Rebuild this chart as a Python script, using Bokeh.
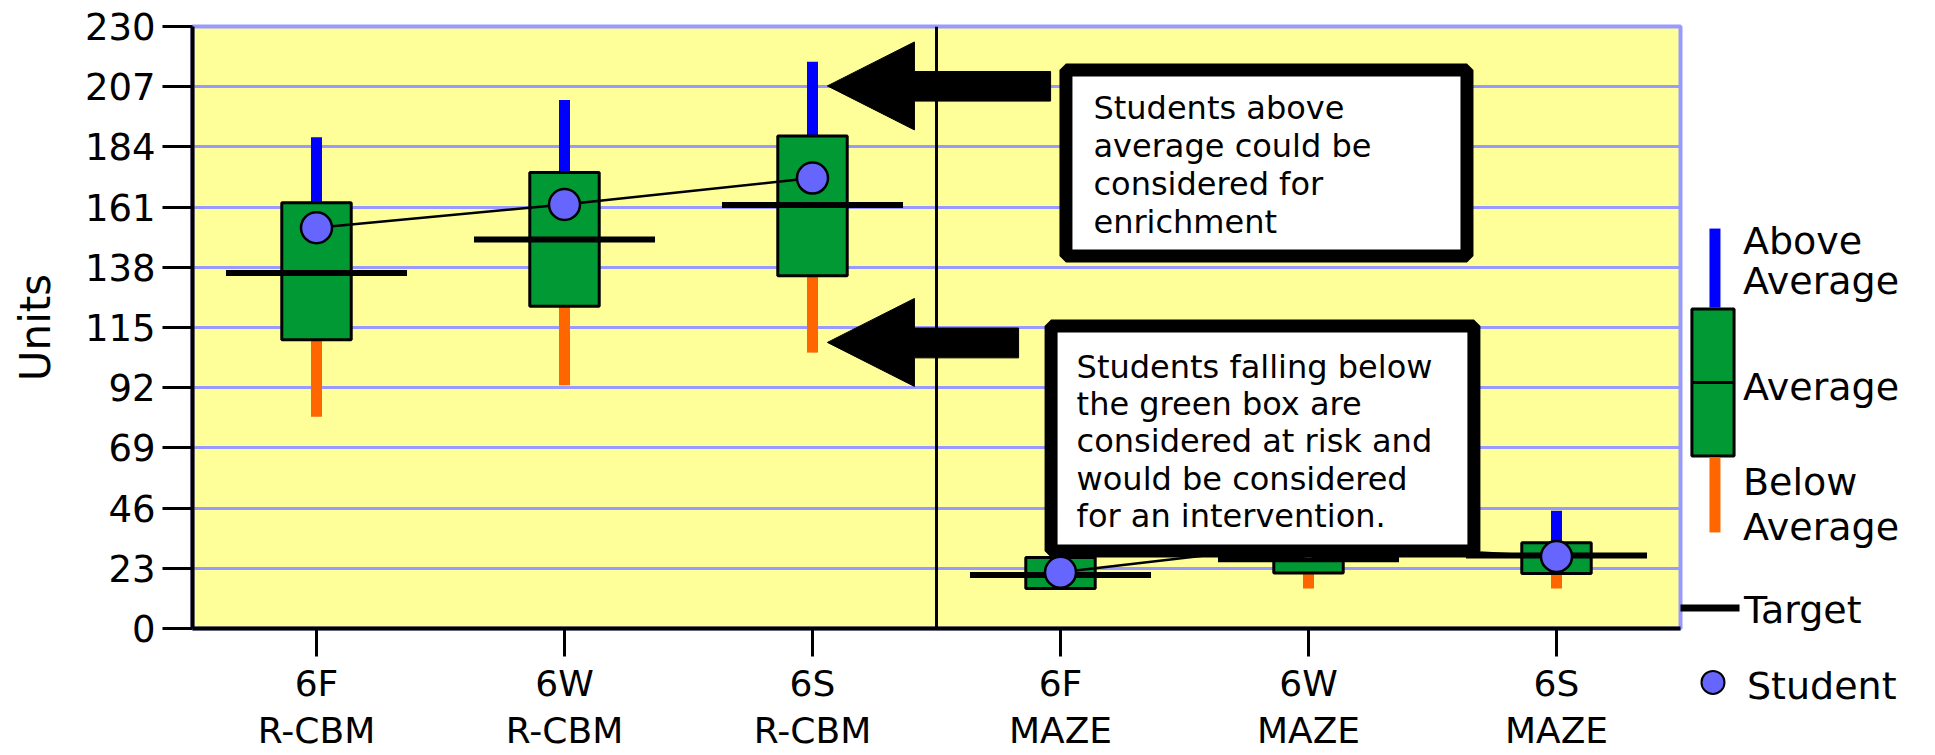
from bokeh.plotting import figure
from bokeh.models import (Range1d, FixedTicker, Span, BoxAnnotation, Label,
                          PolyAnnotation, ColumnDataSource)
from bokeh.core.properties import value
from bokeh.embed import file_html
from bokeh.resources import INLINE

# ---------------- data ----------------
categories = ["6F\nR-CBM", "6W\nR-CBM", "6S\nR-CBM", "6F\nMAZE", "6W\nMAZE", "6S\nMAZE"]
box_low = [110.3, 123.1, 134.8, 15.3, 21.2, 21.0]
box_high = [162.7, 174.2, 188.2, 27.1, 32.0, 32.8]
whisker_low = [80.9, 92.9, 105.4, 15.3, 15.3, 15.3]
whisker_high = [187.7, 201.9, 216.5, 27.1, 36.0, 45.0]
target = [135.8, 148.6, 161.8, 20.4, 26.5, 27.9]
student = [153.1, 162.0, 172.1, 21.5, 32.5, 27.5]
y_ticks = [0, 23, 46, 69, 92, 115, 138, 161, 184, 207, 230]

legend_texts = ["Above", "Average", "Average", "Below", "Average", "Target", "Student"]
callout_top_text = "Students above\naverage could be\nconsidered for\nenrichment"
callout_bottom_text = ("Students falling below\nthe green box are\nconsidered at risk and\n"
                       "would be considered\nfor an intervention.")

# ---------------- style ----------------
FONT = "DejaVu Sans"
YELLOW = "#FFFF99"
GRID = "#9999FF"
GREEN = "#009933"
BLUE = "#0000FF"
ORANGE = "#FF6600"
STUDENT = "#6666FF"

xs = list(range(1, len(categories) + 1))
tests = [c.split("\n")[1] for c in categories]

src = ColumnDataSource(dict(x=xs, box_low=box_low, box_high=box_high,
                            whisker_low=whisker_low, whisker_high=whisker_high,
                            target=target, student=student))

p = figure(width=1935, height=755,
           x_range=Range1d(0.5, len(categories) + 0.5),
           y_range=Range1d(y_ticks[0], y_ticks[-1]),
           output_backend="svg", toolbar_location=None,
           min_border_left=192, min_border_right=255,
           min_border_top=26, min_border_bottom=127,
           background_fill_color=YELLOW, border_fill_color="white")

# whiskers
p.segment(x0="x", y0="box_high", x1="x", y1="whisker_high", line_color=BLUE,
          line_width=11, source=src)
p.segment(x0="x", y0="whisker_low", x1="x", y1="box_low", line_color=ORANGE,
          line_width=11, source=src)
# boxes
p.vbar(x="x", bottom="box_low", top="box_high", width=0.28, fill_color=GREEN,
       line_color="black", line_width=3, source=src)
# targets
p.rect(x="x", y="target", width=0.73, height=6, height_units="screen",
       fill_color="black", line_color=None, source=src)
# student lines per test
for t in ["R-CBM", "MAZE"]:
    gx = [x for x, tt in zip(xs, tests) if tt == t]
    gy = [s for s, tt in zip(student, tests) if tt == t]
    p.line(gx, gy, line_color="black", line_width=2.5)
p.scatter(x="x", y="student", size=31, marker="circle", fill_color=STUDENT,
          line_color="black", line_width=2.5, source=src)

# axes
p.xaxis.ticker = FixedTicker(ticks=xs)
p.xaxis.major_label_overrides = {x: c for x, c in zip(xs, categories)}
p.xaxis.major_label_text_font = FONT
p.xaxis.major_label_text_font_size = "36px"
p.xaxis.major_label_text_line_height = 1.15
p.xaxis.major_label_text_color = "black"
p.xaxis.major_label_standoff = 6
p.xaxis.major_tick_out = 28
p.xaxis.major_tick_in = 0
p.xaxis.major_tick_line_width = 3
p.xaxis.major_tick_line_color = "black"
p.xaxis.minor_tick_line_color = None
p.xaxis.axis_line_width = 4
p.xaxis.axis_line_color = "black"

p.yaxis.ticker = FixedTicker(ticks=y_ticks)
p.yaxis.major_label_text_font = FONT
p.yaxis.major_label_text_font_size = "37px"
p.yaxis.major_label_text_color = "black"
p.yaxis.major_label_standoff = 7
p.yaxis.major_tick_out = 30
p.yaxis.major_tick_in = 0
p.yaxis.major_tick_line_width = 3
p.yaxis.major_tick_line_color = "black"
p.yaxis.minor_tick_line_color = None
p.yaxis.axis_line_width = 4
p.yaxis.axis_line_color = "black"
p.yaxis.axis_label = "Units"
p.yaxis.axis_label_text_font = FONT
p.yaxis.axis_label_text_font_size = "42px"
p.yaxis.axis_label_text_font_style = "normal"
p.yaxis.axis_label_text_color = "black"
p.yaxis.axis_label_standoff = 22

p.xgrid.visible = False
p.ygrid.grid_line_color = GRID
p.ygrid.grid_line_width = 3
p.outline_line_color = GRID
p.outline_line_width = 4
p.outline_line_alpha = 1

# separator between the two tests
n_first = tests.count("R-CBM")
p.add_layout(Span(location=n_first + 0.5, dimension="height",
                  line_color="black", line_width=3))

# arrows
p.add_layout(PolyAnnotation(
    xs=[3.060, 3.411, 3.411, 3.960, 3.960, 3.411, 3.411],
    ys=[207.3, 224.1, 212.8, 212.8, 201.5, 201.5, 190.5],
    fill_color="black", fill_alpha=1, line_color="black", line_alpha=1, line_width=1))
p.add_layout(PolyAnnotation(
    xs=[3.060, 3.411, 3.411, 3.831, 3.831, 3.411, 3.411],
    ys=[109.3, 126.1, 114.8, 114.8, 103.4, 103.4, 92.5],
    fill_color="black", fill_alpha=1, line_color="black", line_alpha=1, line_width=1))

# callouts
p.add_layout(BoxAnnotation(left=4.022, right=5.639, top=213.4, bottom=142.3,
                           fill_color="white", fill_alpha=1, line_color="black",
                           line_alpha=1, line_width=13))
p.add_layout(Label(x=4.133, y=206.3, text=callout_top_text, text_font=FONT,
                   text_font_size="32px", text_baseline="top", text_align="left",
                   text_line_height=1.0, text_color="black"))
p.add_layout(BoxAnnotation(left=3.962, right=5.667, top=115.6, bottom=29.6,
                           fill_color="white", fill_alpha=1, line_color="black",
                           line_alpha=1, line_width=13))
p.add_layout(Label(x=4.065, y=107.2, text=callout_bottom_text, text_font=FONT,
                   text_font_size="32px", text_baseline="top", text_align="left",
                   text_line_height=0.98, text_color="black"))

# ---------------- legend (right margin, drawn unclipped) ----------------
p.segment(x0=[6.639], y0=[152.8], x1=[6.639], y1=[122.6], line_color=BLUE,
          line_width=11, level="overlay")
p.quad(left=[6.546], right=[6.716], top=[122.1], bottom=[65.9], fill_color=GREEN,
       line_color="black", line_width=3, level="overlay")
p.segment(x0=[6.546], y0=[94.0], x1=[6.716], y1=[94.0], line_color="black",
          line_width=3, level="overlay")
p.segment(x0=[6.639], y0=[65.3], x1=[6.639], y1=[36.7], line_color=ORANGE,
          line_width=11, level="overlay")
p.segment(x0=[6.5], y0=[7.8], x1=[6.738], y1=[7.8], line_color="black",
          line_width=7, level="overlay")
p.ellipse(x=[6.631], y=[-20.6], width=23, height=23, width_units="screen",
          height_units="screen", fill_color=STUDENT, line_color="black",
          line_width=2, level="overlay")
legend_src = ColumnDataSource(dict(
    x=[6.752, 6.752, 6.752, 6.752, 6.752, 6.756, 6.768],
    y=[148.0, 132.6, 92.3, 55.8, 38.6, 6.9, -21.8],
    text=legend_texts))
p.text(x="x", y="y", text="text", source=legend_src, text_font=value(FONT),
       text_font_size="38px", text_baseline="alphabetic", text_align="left",
       text_color="black", level="overlay")

open("out.html", "w").write(file_html(p, INLINE))
